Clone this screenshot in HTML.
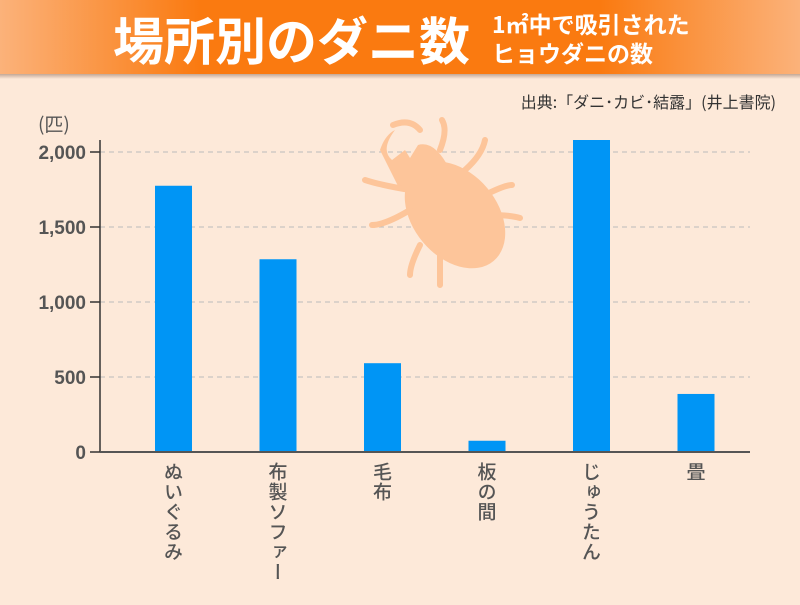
<!DOCTYPE html>
<html><head><meta charset="utf-8"><style>
body{margin:0;width:800px;height:600px;overflow:hidden;background:#fde9d9;font-family:"Liberation Sans","Noto Sans CJK JP",sans-serif}
</style></head><body>
<svg width="800" height="600" xmlns="http://www.w3.org/2000/svg">
<defs>
<linearGradient id="hg" x1="0" x2="1" y1="0" y2="0">
<stop offset="0" stop-color="#fbb27a"/><stop offset="0.25" stop-color="#fa7a10"/><stop offset="0.75" stop-color="#fa7a10"/><stop offset="1" stop-color="#fbb27a"/>
</linearGradient>
<linearGradient id="sh" x1="0" x2="0" y1="0" y2="1"><stop offset="0" stop-color="#b89a88"/><stop offset="1" stop-color="#fde9d9"/></linearGradient>
</defs>
<rect x="0" y="73" width="800" height="6" fill="url(#sh)"/>
<rect x="0" y="0" width="800" height="74" fill="url(#hg)"/>
<text x="113" y="60" font-size="51" font-weight="bold" fill="#fff" textLength="357" lengthAdjust="spacingAndGlyphs" font-family="Noto Sans CJK JP,sans-serif">場所別のダニ数</text>
<text x="492" y="33" font-size="23" font-weight="bold" fill="#fff" font-family="Noto Sans CJK JP,sans-serif">1㎡中で吸引された</text>
<text x="492" y="62" font-size="23" font-weight="bold" fill="#fff" font-family="Noto Sans CJK JP,sans-serif">ヒョウダニの数</text>
<text x="776" y="108" font-size="16" fill="#333" text-anchor="end" font-family="Noto Sans CJK JP,sans-serif">出典:「ダニ･カビ･結露」(井上書院)</text>
<text x="38" y="131" font-size="19" fill="#555" font-family="Noto Sans CJK JP,sans-serif">(匹)</text>
<g id="grid"></g>
<g fill="#fdc59a" stroke="#fdc59a" stroke-linecap="round">
<ellipse cx="455" cy="215" rx="42" ry="60" transform="rotate(-40 455 215)" stroke="none"/>
<path d="M400 190 L380 150 Q385 135 395 130 Q380 150 392 160 L405 150 L410 158 L418 145 Q435 140 450 170 Z" stroke="none"/>
<path d="M393 125 Q410 118 420 130" stroke-width="6" fill="none"/>
<path d="M440 150 Q448 130 442 120 M465 170 Q482 155 485 140 M485 195 Q505 185 512 185 M490 215 Q510 215 520 218 M410 190 Q380 185 365 180 M410 210 Q385 225 372 225 M420 245 Q410 265 410 275 M440 255 Q440 280 440 285" stroke-width="6" fill="none"/>
</g>
<g id="bars"></g>
<line x1="100" y1="140" x2="100" y2="452" stroke="#333" stroke-width="1.5"/>
<line x1="100" y1="452" x2="750" y2="452" stroke="#555" stroke-width="2"/>
<g id="ticks"></g>
<g id="labels"></g>
</svg>
<script>
const categories=["ぬいぐるみ","布製ソファー","毛布","板の間","じゅうたん","畳"];
const values=[1775,1285,592,75,2080,387];
const yTicks=[0,500,1000,1500,2000];
const yTickLabels=["0","500","1,000","1,500","2,000"];
const NS="http://www.w3.org/2000/svg";
const y=v=>452-v*0.15;
const x=i=>173.5+i*104.5;
function mk(t,a,p){const e=document.createElementNS(NS,t);for(const k in a)e.setAttribute(k,a[k]);document.getElementById(p).appendChild(e);return e;}
yTicks.forEach((v,i)=>{
 if(v>0){const g=mk('line',{x1:100,x2:750,y1:y(v),y2:y(v),stroke:'#bbb','stroke-dasharray':'5,4','stroke-width':1},'grid');
 
 }
 const t=mk('line',{x1:90,x2:100,y1:y(v),y2:y(v),stroke:'#333','stroke-width':1.5},'ticks');
 
 
 const l=mk('text',{x:86,y:y(v)+7,'font-size':19,'font-weight':'bold',fill:'#555','text-anchor':'end'},'ticks');
 
 
 l.textContent=yTickLabels[i];
});
values.forEach((v,i)=>{
 const r=mk('rect',{x:x(i)-18.5,y:y(v),width:37,height:452-y(v),fill:'#0095f5'},'bars');
 
 
 const t=mk('text',{x:x(i),y:462,'font-size':19,'font-weight':'500',fill:'#555','writing-mode':'vertical-rl','font-family':'Noto Sans CJK JP,sans-serif','letter-spacing':'1'},'labels');
 
 
 t.textContent=categories[i];
});
</script>
</body></html>
